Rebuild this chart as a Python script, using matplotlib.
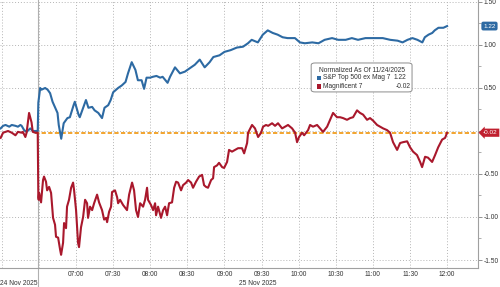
#!/usr/bin/env python3
"""Mag 7 vs S&P Top 500 ex Mag 7, intraday, normalized to 11/24 close."""

import matplotlib
matplotlib.use('Agg')
import matplotlib.pyplot as plt
from matplotlib.patches import FancyBboxPatch, Rectangle
from matplotlib.lines import Line2D
import matplotlib.transforms as mtransforms

plt.rcParams['font.family'] = ['Liberation Sans', 'DejaVu Sans']

# minutes since midnight on 25 Nov; points before 06:30 are the 24 Nov stub
ex_mag7_t = [359, 361, 363, 366, 368, 371, 373, 375, 376, 378, 380, 383, 385, 388, 389,
             389.5, 391, 392, 395, 397, 399, 401, 405, 406, 408, 410, 413, 415, 418, 419,
             422, 423, 426, 428, 430, 433, 435, 438, 441, 443, 446, 448, 450, 454, 457,
             460, 462, 465, 468, 470, 473, 475, 477, 480, 482, 485, 488, 490, 494, 496,
             500, 504, 508, 512, 516, 520, 524, 528, 531, 536, 540, 545, 550, 555, 559,
             562, 567, 571, 575, 579, 583, 587, 591, 597, 601, 605, 611, 616, 621, 627,
             632, 638, 643, 648, 654, 659, 663, 668, 674, 680, 684, 688, 692, 696, 700,
             702, 705, 708, 710, 713, 717, 720]
ex_mag7_v = [0.03, 0.06, 0.07, 0.05, 0.07, 0.06, 0.05, 0.07, 0.06, 0.01, -0.01, 0.03, 0.00, 0.00, 0.00,
             0.33, 0.50, 0.48, 0.50, 0.48, 0.44, 0.34, 0.21, 0.07, -0.09, 0.09, 0.15, 0.16, 0.30, 0.34,
             0.19, 0.16, 0.28, 0.36, 0.27, 0.28, 0.24, 0.21, 0.15, 0.27, 0.30, 0.36, 0.45, 0.50, 0.53,
             0.57, 0.67, 0.80, 0.71, 0.59, 0.59, 0.49, 0.62, 0.62, 0.63, 0.64, 0.62, 0.63, 0.56, 0.63,
             0.74, 0.67, 0.69, 0.73, 0.77, 0.83, 0.74, 0.80, 0.86, 0.88, 0.92, 0.94, 0.97, 0.98, 1.02,
             1.06, 1.03, 1.12, 1.17, 1.14, 1.12, 1.09, 1.08, 1.08, 1.03, 1.02, 1.03, 1.02, 1.06, 1.08,
             1.06, 1.06, 1.08, 1.06, 1.08, 1.08, 1.08, 1.08, 1.06, 1.05, 1.03, 1.06, 1.08, 1.06, 1.03,
             1.09, 1.12, 1.14, 1.17, 1.20, 1.20, 1.22]

mag7_t = [359, 361, 365, 368, 371, 373, 376, 377, 379, 380, 382, 384, 385, 387, 389,
          389.5, 389.8, 390.1, 391.7, 393.3, 394.1, 395.7, 396.6, 398.2, 399.8, 401.4, 403.0, 403.8,
          405.5, 407.1, 407.9, 409.5, 410.3, 411.9, 412.7, 414.3, 416.0, 417.6, 418.4, 420.0,
          421.6, 422.4, 424.0, 425.7, 427.3, 428.9, 429.7, 431.3, 433.0, 434.6, 437.0, 438.6,
          441.0, 442.7, 444.3, 445.1, 446.7, 448.3, 449.1, 451.5, 453.2, 454.0, 455.6, 458.0,
          461.2, 462.9, 465.3, 466.9, 468.5, 470.1, 471.8, 474.2, 475.8, 477.4, 478.2, 480.6,
          482.3, 483.9, 484.7, 486.3, 488.7, 490.4, 492.0, 493.6, 495.2, 497.6, 499.3, 500.9,
          502.5, 504.9, 506.5, 509.0, 510.6, 513.0, 514.6, 517.0, 519.5, 521.9, 523.5, 525.1,
          526.7, 529.2, 530.8, 531.6, 534.0, 535.6, 538.1, 539.7, 542.1, 543.7, 546.1, 548.6,
          551.0, 554.2, 555.9, 558.3, 559.1, 562.3, 564.7, 567.2, 569.6, 571.2, 573.6, 575.3,
          578.5, 580.9, 583.3, 586.6, 589.0, 591.4, 594.7, 597.1, 598.7, 600.3, 602.8, 604.4,
          607.6, 609.2, 611.6, 614.9, 617.3, 619.7, 623.0, 625.4, 627.8, 631.0, 633.5, 635.9,
          639.1, 641.6, 644.0, 647.2, 649.6, 652.1, 655.3, 657.7, 660.2, 663.4, 665.8, 668.3,
          671.5, 673.9, 676.3, 679.6, 682.0, 684.4, 687.7, 690.1, 692.5, 695.7, 698.2, 699.8,
          702.2, 704.6, 707.9, 710.3, 712.8, 716.0, 718.4, 720.0]
mag7_v = [-0.08, -0.02, 0.00, -0.02, -0.05, -0.01, -0.02, -0.01, -0.07, -0.02, 0.21, 0.10, -0.01, -0.02, -0.02,
          -0.77, -0.80, -0.72, -0.83, -0.57, -0.53, -0.59, -0.69, -0.65, -0.72, -1.01, -1.09,
          -1.23, -1.24, -1.38, -1.44, -1.30, -1.07, -1.13, -0.88, -0.80, -0.66, -0.60, -0.69,
          -0.92, -1.30, -1.35, -1.12, -1.00, -0.80, -0.84, -1.01, -0.88, -0.92, -0.84, -0.74,
          -0.83, -0.92, -1.03, -1.01, -1.06, -0.94, -0.88, -0.71, -0.69, -0.77, -0.84, -0.80,
          -0.86, -0.92, -0.74, -0.60, -0.69, -0.92, -1.00, -0.84, -0.88, -0.80, -0.66, -0.80,
          -0.86, -0.92, -0.84, -0.98, -0.88, -1.01, -0.92, -0.88, -0.98, -0.84, -0.83, -0.66,
          -0.59, -0.60, -0.69, -0.63, -0.60, -0.57, -0.60, -0.66, -0.59, -0.53, -0.51, -0.63,
          -0.65, -0.66, -0.57, -0.55, -0.42, -0.40, -0.37, -0.42, -0.43, -0.36, -0.22, -0.24,
          -0.22, -0.20, -0.20, -0.26, -0.14, -0.02, 0.07, 0.03, -0.07, -0.02, 0.05, 0.07,
          0.06, 0.09, 0.06, 0.09, 0.03, 0.05, 0.07, 0.03, -0.02, -0.13, -0.07, -0.02,
          -0.05, 0.01, 0.07, 0.05, 0.07, 0.03, -0.01, 0.05, 0.13, 0.21, 0.16, 0.16,
          0.15, 0.13, 0.15, 0.16, 0.24, 0.21, 0.19, 0.13, 0.15, 0.12, 0.07, 0.05,
          0.03, 0.01, -0.02, -0.13, -0.22, -0.14, -0.13, -0.12, -0.19, -0.24, -0.28, -0.36,
          -0.42, -0.30, -0.31, -0.36, -0.28, -0.19, -0.10, -0.08, -0.02]

ex_mag7_last = 1.22
mag7_last = -0.02

tick_mins = [360, 390, 420, 450, 480, 510, 540, 570, 600, 630, 660, 690, 720]
tick_labels = ['', '', '07:00', '07:30', '08:00', '08:30', '09:00', '09:30',
               '10:00', '10:30', '11:00', '11:30', '12:00']
y_ticks = [-1.5, -1.0, -0.5, 0.0, 0.5, 1.0, 1.5]
y_labels = ['-1.50', '-1.00', '-0.50', '', '0.50', '1.00', '1.50']

day_break = 389.5
BLUE = '#2d6aa3'
RED = '#a9182c'
ORANGE = '#f2a42e'
GRID = '#b5b5b5'
TXT = '#333333'


def main():
    fig = plt.figure(figsize=(5.0, 2.87), dpi=100)
    ax = fig.add_axes([0, 1 - 268 / 287, 478 / 500, 268 / 287])
    ax.set_xlim(358.5, 745)
    ax.set_ylim(-1.593, 1.523)

    for s in ('left', 'top'):
        ax.spines[s].set_visible(False)
    for s in ('right', 'bottom'):
        ax.spines[s].set_color('#a0a0a0')
        ax.spines[s].set_linewidth(0.8)

    ax.set_xticks(tick_mins)
    ax.set_xticklabels(tick_labels)
    ax.set_yticks(y_ticks)
    ax.set_yticklabels(y_labels)
    ax.set_yticks([-1.25, -0.75, -0.25, 0.25, 0.75, 1.25], minor=True)
    ax.yaxis.tick_right()
    ax.tick_params(axis='y', which='major', length=3, width=0.6, color='#808080',
                   labelsize=4.8, labelcolor=TXT, pad=1)
    ax.tick_params(axis='y', which='minor', length=2, width=0.6, color='#a0a0a0')
    ax.tick_params(axis='x', length=0, labelsize=4.8, labelcolor=TXT, pad=2.5)

    ax.grid(True, which='major', color=GRID, linestyle=(0, (1, 2)), linewidth=0.7)

    # separator between sessions, runs down into the date row
    trans = mtransforms.blended_transform_factory(ax.transData, ax.transAxes)
    ax.add_line(Line2D([day_break, day_break], [-0.08, 1], transform=trans,
                       color='#b0b0b0', lw=0.8, clip_on=False, zorder=2))
    ax.text(374, -0.046, '24 Nov 2025', transform=trans, ha='center', va='top',
            fontsize=4.8, color=TXT)
    ax.text(567, -0.046, '25 Nov 2025', transform=trans, ha='center', va='top',
            fontsize=4.8, color=TXT)

    ax.hlines(mag7_last, day_break - 3, 745, colors=ORANGE, linestyles=(0, (2.2, 1.2)),
              linewidth=1.4, zorder=3)

    ax.plot(ex_mag7_t, ex_mag7_v, color=BLUE, lw=1.5, zorder=4, solid_joinstyle='round')
    ax.plot(mag7_t, mag7_v, color=RED, lw=1.5, zorder=4, solid_joinstyle='round')

    # last-value tags on the right axis
    ytr = mtransforms.blended_transform_factory(ax.transAxes, ax.transData)
    ax.text(1.024, ex_mag7_last, f'{ex_mag7_last:.2f}', transform=ytr, ha='center', va='center',
            fontsize=4.6, color='white', clip_on=False, zorder=6,
            bbox=dict(boxstyle='round,pad=0.3,rounding_size=0.3', fc=BLUE, ec='none'))
    ax.text(1.026, mag7_last, f'{mag7_last:.2f}', transform=ytr, ha='center', va='center',
            fontsize=4.6, color='white', clip_on=False, zorder=6,
            bbox=dict(boxstyle='larrow,pad=0.25', fc='#c0202f', ec='none'))

    # legend box
    lx0, lx1, ly0, ly1 = 0.651, 0.862, 0.657, 0.765
    ax.add_patch(FancyBboxPatch((lx0, ly0), lx1 - lx0, ly1 - ly0, transform=ax.transAxes,
                                boxstyle='round,pad=0,rounding_size=0.008', fc='white',
                                ec='#8c8c8c', lw=0.7, zorder=7))
    ax.text(0.757, 0.737, 'Normalized As Of 11/24/2025', transform=ax.transAxes,
            ha='center', va='center', fontsize=4.8, color=TXT, zorder=8)
    for yy, col, lab, val, xr in [(0.709, BLUE, 'S&P Top 500 ex Mag 7', ex_mag7_last, 0.849),
                                  (0.677, RED, 'Magnificent 7', mag7_last, 0.860)]:
        ax.add_patch(Rectangle((0.663, yy - 0.008), 0.0095, 0.017, transform=ax.transAxes,
                               fc=col, ec='none', zorder=8))
        ax.text(0.676, yy, lab, transform=ax.transAxes, ha='left', va='center',
                fontsize=4.8, color=TXT, zorder=8)
        ax.text(xr, yy, f'{val:.2f}', transform=ax.transAxes, ha='right', va='center',
                fontsize=4.8, color=TXT, zorder=8)

    fig.savefig('out.png', dpi=100)


if __name__ == '__main__':
    main()
